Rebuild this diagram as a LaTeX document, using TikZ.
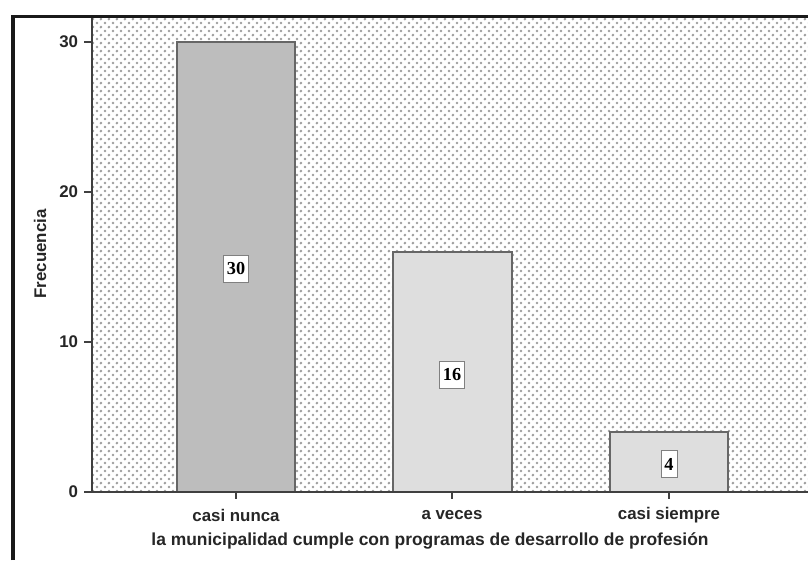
\documentclass[tikz,border=0pt]{standalone}
\usepackage{fontspec}
\setmainfont{Liberation Serif}
\setsansfont{Liberation Sans}
\usetikzlibrary{patterns.meta}

\tikzdeclarepattern{
  name=plusdots, type=uncolored,
  bounding box={(0,0) and (5.67pt,5.67pt)},
  tile size={(5.67pt,5.67pt)},
  code={
    \fill (1.42pt,1.42pt) circle (1.05pt);
    \fill (4.25pt,4.25pt) circle (1.05pt);
  }
}

\begin{document}
\begin{tikzpicture}[
  x=0.025cm, y=-0.025cm,
  bar/.style={draw=black!60, line width=0.8pt},
  val/.style={rectangle, draw=black!50, fill=white, line width=0.6pt,
              font=\fontsize{13}{14}\selectfont\bfseries\rmfamily,
              inner sep=2.5pt, minimum height=0.66cm},
  lbl/.style={font=\fontsize{12}{14}\selectfont\bfseries\sffamily,
              text=black!85},
  ticklbl/.style={lbl, anchor=east},
  axis/.style={draw=black!75, line width=0.8pt}
]
  \useasboundingbox (0,0) rectangle (808,560);
  \fill[white] (0,0) rectangle (808,560);

  % plot area
  \fill[pattern=plusdots, pattern color=black!38] (92,17) rectangle (808,492);

  % bars
  \filldraw[bar, fill=black!26] (177,42)  rectangle (295,492);
  \filldraw[bar, fill=black!13] (393,252) rectangle (512,492);
  \filldraw[bar, fill=black!13] (610,432) rectangle (728,492);

  % axes and ticks
  \draw[axis] (92,17) -- (92,492) -- (808,492);
  \foreach \v/\yy in {0/492,10/342,20/192,30/42} {
    \draw[axis] (84,\yy) -- (92,\yy);
    \node[ticklbl] (tick\v) at (83,\yy) {\v};
  }
  \foreach \xx in {236,452,669}
    \draw[axis] (\xx,492) -- (\xx,499);

  % value labels
  \node[val] (v30) at (236,269) {30};
  \node[val] (v16) at (452,375) {16};
  \node[val] (v4)  at (669,464) {4};

  % category labels
  \node[lbl] (cnunca)   at (236,515) {casi nunca};
  \node[lbl] (aveces)   at (452,515) {a veces};
  \node[lbl] (csiempre) at (669,515) {casi siempre};

  % axis titles
  \node[lbl, font=\fontsize{12.4}{14}\selectfont\bfseries\sffamily] (xtitle)
    at (430,541) {la municipalidad cumple con programas de desarrollo de profesión};
  \node[lbl, rotate=90] (ytitle) at (40,254) {Frecuencia};

  % outer frame
  \draw[line width=2.2pt, black!90] (13,560) -- (13,16.5) -- (808,16.5);
\end{tikzpicture}
\end{document}
